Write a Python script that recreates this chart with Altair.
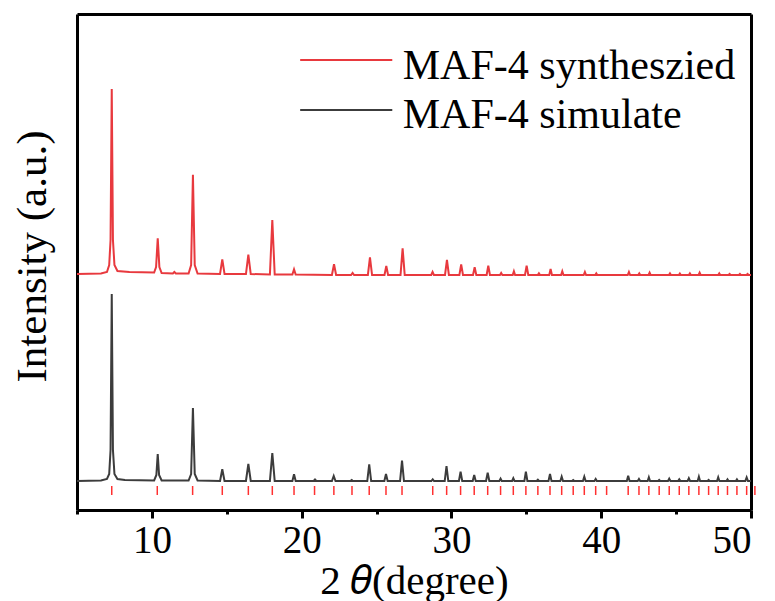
import altair as alt
import pandas as pd

# ---- simulated pattern (black) : 2theta and intensity (a.u.) ----
sim_x = [5.0, 6.6, 7.0, 7.15, 7.24, 7.32, 7.40, 7.5, 7.7, 8.2,
         10.15, 10.30, 10.39, 10.48, 10.65,
         12.45, 12.62, 12.74, 12.86, 13.05,
         14.55, 14.70, 14.85, 16.28, 16.44, 16.60, 17.88, 18.04, 18.20,
         19.38, 19.49, 19.60, 20.80, 20.89, 20.98, 22.02, 22.14, 22.26,
         23.25, 23.34, 23.43, 24.38, 24.51, 24.64, 25.52, 25.63, 25.74,
         26.57, 26.70, 26.83, 28.66, 28.75, 28.84, 29.55, 29.67, 29.79,
         30.50, 30.61, 30.72, 31.42, 31.52, 31.62, 32.31, 32.42, 32.53,
         33.20, 33.28, 33.36, 34.05, 34.13, 34.21, 34.87, 34.97, 35.07,
         35.69, 35.77, 35.85, 36.48, 36.58, 36.68, 37.27, 37.36, 37.45,
         38.05, 38.13, 38.21, 38.78, 38.87, 38.96, 39.55, 39.63, 39.71,
         41.71, 41.80, 41.89, 42.44, 42.52, 42.60, 43.10, 43.18, 43.26,
         43.80, 43.87, 43.94, 44.46, 44.54, 44.62, 45.13, 45.21, 45.29,
         45.77, 45.85, 45.93, 46.44, 46.52, 46.60, 47.10, 47.17, 47.24,
         47.73, 47.81, 47.89, 48.36, 48.43, 48.50, 48.99, 49.06, 49.13,
         49.62, 49.71, 49.80, 50.0]
sim_y = [29, 29.5, 31, 36, 60, 216, 60, 36, 31, 30,
         29.5, 35, 56, 35, 29.5,
         29.5, 36, 102, 36, 29.5,
         29, 40.7, 29, 29, 46, 29, 29, 57, 29,
         29, 35.7, 29, 29, 30.5, 29, 29, 34, 29,
         29, 30, 29, 29, 45.7, 29, 29, 36, 29,
         29, 49.3, 29, 29, 30.7, 29, 29, 44, 29,
         29, 38.3, 29, 29, 35, 29, 29, 37.3, 29,
         29, 31.3, 29, 29, 31.7, 29, 29, 38.3, 29,
         29, 30.3, 29, 29, 36, 29, 29, 33.3, 29,
         29, 30, 29, 29, 33.3, 29, 29, 31, 29,
         29, 34.3, 29, 29, 31, 29, 29, 32.7, 29,
         29, 30, 29, 29, 31.3, 29, 29, 30.7, 29,
         29, 31.7, 29, 29, 33.3, 29, 29, 30, 29,
         29, 32.7, 29, 29, 30.7, 29, 29, 30.7, 29,
         29, 32.7, 29, 29]

# ---- synthesized sample (red), offset upward ----
syn_x = [5.0, 6.6, 7.0, 7.15, 7.24, 7.32, 7.40, 7.5, 7.7, 8.5,
         10.15, 10.28, 10.39, 10.50, 10.65, 11.40, 11.50, 11.60,
         12.45, 12.62, 12.74, 12.86, 13.05,
         14.55, 14.70, 14.85, 16.28, 16.44, 16.60, 17.88, 18.04, 18.20,
         19.38, 19.49, 19.60, 22.02, 22.16, 22.30, 23.30, 23.40, 23.50,
         24.42, 24.56, 24.70, 25.53, 25.65, 25.77, 26.60, 26.74, 26.88,
         28.65, 28.74, 28.83, 29.57, 29.70, 29.83, 30.53, 30.65, 30.77,
         31.44, 31.55, 31.66, 32.35, 32.46, 32.57, 33.24, 33.32, 33.40,
         34.09, 34.17, 34.25, 34.91, 35.02, 35.13, 35.76, 35.84, 35.92,
         36.53, 36.62, 36.71, 37.32, 37.40, 37.48, 38.83, 38.91, 38.99,
         39.60, 39.67, 39.74, 41.77, 41.85, 41.93, 42.47, 42.54, 42.61,
         43.16, 43.23, 43.30, 44.52, 44.59, 44.66, 45.18, 45.25, 45.32,
         45.85, 45.92, 45.99, 46.50, 46.57, 46.64, 47.81, 47.88, 47.95,
         48.50, 48.57, 48.64, 49.19, 49.26, 49.33, 49.70, 49.77, 49.84, 50.0]
syn_y = [236, 236.5, 238, 245, 270, 421, 270, 245, 239, 238,
         237.5, 243, 271.7, 243, 237, 236.5, 238, 236.5,
         236.5, 245, 335.3, 245, 236.5,
         236, 250.7, 236, 236, 255.3, 236, 235.5, 290, 235.5,
         235.5, 240.7, 235.5, 235, 245.7, 235, 235, 237, 235,
         235, 252.7, 235, 235, 244, 235, 235, 261.7, 235,
         235, 238, 235, 235, 250, 235, 235, 245.7, 235,
         235, 242.7, 235, 235, 244.3, 235, 235, 237, 235,
         235, 238.7, 235, 235, 244.3, 235, 235, 236.7, 235,
         235, 241, 235, 235, 238.7, 235, 235, 238, 235,
         235, 236.7, 235, 235, 238, 235, 235, 236.7, 235,
         235, 237.3, 235, 235, 236.7, 235, 235, 236.5, 235,
         235, 236.7, 235, 235, 237.3, 235, 235, 236.7, 235,
         235, 236, 235, 235, 236, 235, 235, 236, 235, 235]

# ---- reflection positions (red ticks at the bottom) ----
refl_x = [7.32, 10.36, 12.72, 14.70, 16.44, 18.04, 19.49, 20.86, 22.15,
          23.36, 24.51, 25.63, 26.70, 28.75, 29.68, 30.61, 31.52, 32.42,
          33.28, 34.13, 34.97, 35.77, 36.58, 37.36, 38.13, 38.87, 39.63,
          40.36, 41.80, 42.52, 43.18, 43.87, 44.54, 45.21, 45.85, 46.52,
          47.17, 47.81, 48.43, 49.06, 49.71, 50.26]

series_names = ["MAF-4 syntheszied", "MAF-4 simulate"]
series_colors = ["#e8393e", "#3c3c3c"]

df = pd.concat([
    pd.DataFrame({"x": syn_x, "y": syn_y, "series": series_names[0], "o": range(len(syn_x))}),
    pd.DataFrame({"x": sim_x, "y": sim_y, "series": series_names[1], "o": range(len(sim_x))}),
])
ticks_df = pd.DataFrame({"x": refl_x})

# legend placement (in the chart's own 2theta / intensity coordinates)
legend_df = pd.DataFrame({
    "series": series_names,
    "x0": [19.9, 19.9], "x1": [26.05, 26.05],
    "ly": [450, 400], "tx": [26.75, 26.75], "ty": [431, 382],
})

FONT = "Liberation Serif"

xscale = alt.Scale(domain=[5, 50], nice=False)
yscale = alt.Scale(domain=[0, 496], nice=False, zero=False)
cscale = alt.Scale(domain=series_names, range=series_colors)

lines = alt.Chart(df).mark_line(strokeWidth=2, clip=True).encode(
    x=alt.X("x:Q", scale=xscale,
            axis=alt.Axis(title="2 \U0001D703(degree)", orient="bottom",
                          values=[5, 10, 15, 20, 25, 30, 35, 40, 45, 50],
                          labelExpr="datum.value % 10 === 0 ? datum.label : ''",
                          grid=False, domainColor="black", domainWidth=3,
                          tickColor="black", tickWidth=3,
                          tickSize={"condition": {"test": "datum.value % 10 === 0", "value": 8}, "value": 4},
                          labelFont=FONT, labelFontSize=39, labelColor="black", labelPadding=3,
                          titleFont=FONT, titleFontSize=41, titleFontWeight="normal",
                          titleColor="black", titlePadding=1)),
    y=alt.Y("y:Q", scale=yscale,
            axis=alt.Axis(title="Intensity (a.u.)", orient="left", labels=False, ticks=False,
                          domain=True, domainColor="black", domainWidth=3, grid=False,
                          titleFont=FONT, titleFontSize=43, titleFontWeight="normal",
                          titleColor="black", titlePadding=23, titleY=242)),
    color=alt.Color("series:N", scale=cscale, legend=None),
    order="o:Q",
)

# reflection ticks; this layer also carries the top and right frame lines
refl = alt.Chart(ticks_df).mark_rule(color="#ff3030", strokeWidth=1.5).encode(
    x=alt.X("x:Q", scale=xscale,
            axis=alt.Axis(orient="top", title=None, labels=False, ticks=False, grid=False,
                          domain=True, domainColor="black", domainWidth=3)),
    y=alt.datum(15, axis=alt.Axis(orient="right", title=None, labels=False, ticks=False, grid=False,
                                  domain=True, domainColor="black", domainWidth=3)),
    y2=alt.datum(24),
)

leg_lines = alt.Chart(legend_df).mark_rule(strokeWidth=2).encode(
    x=alt.X("x0:Q", scale=xscale, axis=None), x2="x1:Q",
    y=alt.Y("ly:Q", scale=yscale, axis=None),
    color=alt.Color("series:N", scale=cscale, legend=None),
)
leg_text = alt.Chart(legend_df).mark_text(
    align="left", baseline="alphabetic", font=FONT, fontSize=42, color="black"
).encode(
    x=alt.X("tx:Q", scale=xscale, axis=None),
    y=alt.Y("ty:Q", scale=yscale, axis=None),
    text="series:N",
)

chart = alt.layer(lines, refl, leg_lines, leg_text).resolve_axis(
    x="independent", y="independent"
).properties(
    width=674, height=496,
    autosize=alt.AutoSizeParams(type="none"),
    padding={"left": 77, "top": 14, "right": 24, "bottom": 91},
    background="white",
).configure(font=FONT, view=alt.ViewConfig(stroke="black", strokeWidth=0))

chart.save("out.html", embed_options={"renderer": "svg", "actions": False})
